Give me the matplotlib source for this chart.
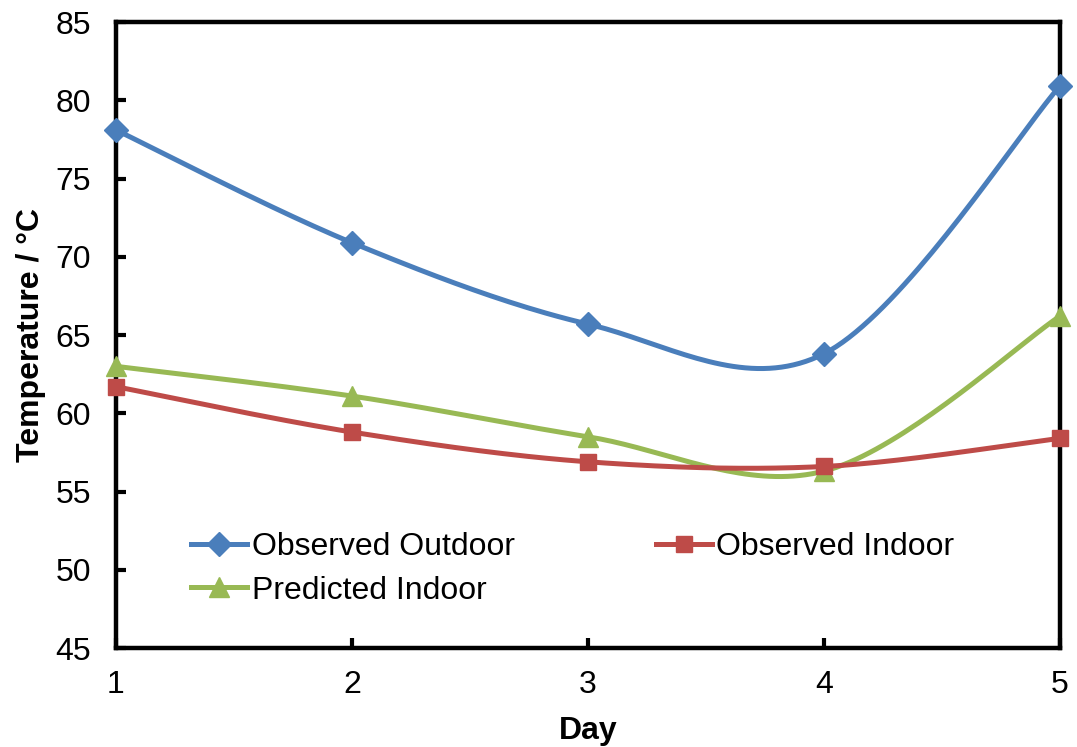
import numpy as np
from matplotlib import pyplot as plt

plt.rcParams['font.family'] = ['Liberation Sans', 'DejaVu Sans']

days = [1, 2, 3, 4, 5]
observed_outdoor = [78.1, 70.9, 65.7, 63.8, 80.9]
observed_indoor = [61.7, 58.8, 56.9, 56.6, 58.4]
predicted_indoor = [63.0, 61.1, 58.5, 56.3, 66.2]


def smooth(xs, ys, n=40):
    # excel-like smoothed line: catmull-rom through the points, as bezier segments
    p = np.column_stack([xs, ys]).astype(float)
    p = np.vstack([p[0], p, p[-1]])
    out = []
    for i in range(1, len(p) - 2):
        p0, p1, p2, p3 = p[i - 1], p[i], p[i + 1], p[i + 2]
        c1 = p1 + (p2 - p0) / 6
        c2 = p2 - (p3 - p1) / 6
        t = np.linspace(0, 1, n)[:, None]
        seg = (1 - t)**3 * p1 + 3 * (1 - t)**2 * t * c1 + 3 * (1 - t) * t**2 * c2 + t**3 * p2
        out.append(seg if i == 1 else seg[1:])
    out = np.vstack(out)
    return out[:, 0], out[:, 1]


fig = plt.figure(figsize=(10.77, 7.47), dpi=100)
ax = fig.add_axes([0.1077, 0.1325, 0.8763, 0.838])

series = [
    ('Observed Outdoor', observed_outdoor, '#4A7EBB', 'D', 12),
    ('Predicted Indoor', predicted_indoor, '#98B954', '^', 14),
    ('Observed Indoor', observed_indoor, '#BE4B48', 's', 12),
]
for label, vals, color, marker, ms in series:
    sx, sy = smooth(days, vals)
    ax.plot(sx, sy, color=color, lw=3.6, clip_on=False, zorder=3)
    ax.plot(days, vals, ls='none', marker=marker, ms=ms, color=color,
            clip_on=False, zorder=4)
    # legend proxy
    ax.plot([], [], color=color, lw=3.6, marker=marker, ms=ms, label=label)

ax.set_xlim(1, 5)
ax.set_ylim(45, 85)
ax.set_xticks(days)
ax.set_yticks(np.arange(45, 86, 5))
ax.tick_params(direction='in', length=7, width=3, labelsize=23)
ax.tick_params(axis='y', pad=18)
ax.tick_params(axis='x', pad=16)
for s in ax.spines.values():
    s.set_linewidth(3.2)

ax.set_xlabel('Day', fontsize=23, fontweight='bold', labelpad=11)
ax.set_ylabel('Temperature / °C', fontsize=23, fontweight='bold', labelpad=7)

ax.legend(loc='upper left', bbox_to_anchor=(0.08, 0.185), ncol=2, frameon=False,
          fontsize=23, handlelength=1.75, handletextpad=0.15, columnspacing=4.4,
          labelspacing=0.42, borderaxespad=0, borderpad=0)

fig.savefig('out.png', dpi=100)
